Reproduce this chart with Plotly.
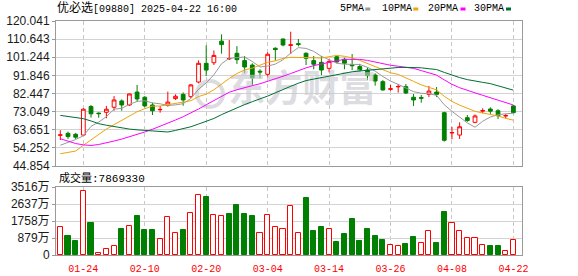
import plotly.graph_objects as go

# ---------------- data ----------------
dates = ['2025-01-21', '2025-01-22', '2025-01-23', '2025-01-24', '2025-01-27', '2025-01-28',
         '2025-02-03', '2025-02-04', '2025-02-05', '2025-02-06', '2025-02-07', '2025-02-10',
         '2025-02-11', '2025-02-12', '2025-02-13', '2025-02-14', '2025-02-17', '2025-02-18',
         '2025-02-19', '2025-02-20', '2025-02-21', '2025-02-24', '2025-02-25', '2025-02-26',
         '2025-02-27', '2025-02-28', '2025-03-03', '2025-03-04', '2025-03-05', '2025-03-06',
         '2025-03-07', '2025-03-10', '2025-03-11', '2025-03-12', '2025-03-13', '2025-03-14',
         '2025-03-17', '2025-03-18', '2025-03-19', '2025-03-20', '2025-03-21', '2025-03-24',
         '2025-03-25', '2025-03-26', '2025-03-27', '2025-03-28', '2025-03-31', '2025-04-01',
         '2025-04-02', '2025-04-03', '2025-04-07', '2025-04-08', '2025-04-09', '2025-04-10',
         '2025-04-11', '2025-04-14', '2025-04-15', '2025-04-16', '2025-04-17', '2025-04-22']

opens = [60.8, 61.8, 61.3, 60.9, 75.7, 72.3, 72.7, 75.3, 78.6, 76.5,
         83.2, 80.5, 76.5, 74.0, 76.3, 79.8, 82.0, 80.8, 88.4, 98.1,
         98.4, 109.6, 100.4, 103.3, 99.5, 97.2, 94.0, 92.4, 105.9, 110.7,
         107.4, 108.3, 103.3, 99.5, 98.6, 95.5, 101.5, 100.2, 97.3, 96.4,
         94.6, 92.0, 88.6, 84.6, 85.9, 86.0, 80.5, 80.4, 82.0, 83.2,
         72.5, 62.0, 60.9, 69.9, 67.5, 73.3, 74.4, 73.5, 70.8, 76.0]
highs = [63.4, 62.7, 62.0, 74.8, 76.5, 72.6, 76.0, 81.1, 79.4, 82.4,
         86.9, 81.1, 77.7, 76.0, 83.4, 82.0, 83.0, 87.4, 99.6, 107.4,
         104.8, 113.1, 110.2, 107.0, 101.9, 98.1, 95.0, 103.8, 106.4, 110.9,
         114.5, 110.7, 103.8, 101.9, 101.9, 100.3, 101.9, 101.0, 102.9, 97.8,
         95.9, 92.9, 89.4, 86.9, 87.4, 87.4, 82.2, 81.7, 86.4, 85.8,
         73.0, 65.1, 67.5, 71.3, 71.6, 74.8, 75.3, 74.3, 71.8, 76.5]
lows = [58.3, 58.9, 58.9, 60.5, 70.0, 69.9, 69.6, 73.5, 73.5, 76.0,
        78.2, 75.3, 71.3, 72.5, 75.6, 79.1, 76.1, 80.0, 87.7, 91.5,
        97.2, 103.1, 99.8, 97.8, 92.9, 86.9, 90.3, 90.8, 99.5, 106.9,
        102.9, 106.9, 97.2, 95.0, 92.0, 93.4, 98.1, 95.0, 94.6, 93.8,
        89.4, 86.5, 83.9, 83.8, 82.9, 82.2, 76.0, 77.7, 80.6, 80.6,
        57.5, 58.7, 58.9, 67.8, 67.0, 72.2, 71.9, 69.2, 69.6, 72.2]
closes = [61.0, 60.1, 59.8, 74.3, 71.9, 72.0, 74.3, 79.1, 76.5, 82.2,
          79.6, 76.0, 73.5, 74.2, 78.0, 81.0, 79.1, 86.9, 98.1, 94.6,
          102.2, 107.8, 100.6, 100.0, 96.2, 90.6, 93.6, 102.8, 105.2, 107.6,
          107.7, 107.9, 100.7, 97.6, 94.6, 99.1, 98.8, 98.1, 96.9, 94.6,
          91.7, 88.9, 84.3, 84.9, 86.1, 82.7, 79.1, 80.0, 83.7, 82.0,
          58.2, 62.2, 65.2, 68.4, 70.8, 73.6, 73.3, 70.9, 71.0, 72.5]
# volume in units of 万 (10,000 shares)
volumes = [1442, 975, 700, 3293, 1634, 78, 321, 477, 1322, 1514,
           1997, 1271, 1271, 840, 1960, 1151, 1271, 2188, 3122, 2982,
           2048, 1997, 2100, 2567, 2100, 1997, 1151, 2083, 1426, 1357,
           2515, 1151, 2930, 1219, 1426, 1357, 648, 1063, 1841, 700,
           1322, 959, 752, 529, 477, 545, 908, 631, 1253, 596,
           2204, 1668, 1253, 890, 890, 529, 441, 441, 218, 787]
last_volume = 7869330

ma5 = [55.6, 57.0, 58.6, 60.5, 65.42, 67.62, 70.46, 74.32, 74.76, 76.82,
       78.34, 78.68, 77.56, 77.10, 76.26, 76.54, 77.16, 79.84, 84.62, 87.94,
       92.18, 97.92, 100.66, 101.04, 101.36, 99.04, 96.20, 96.64, 97.68, 99.96,
       103.38, 106.24, 105.82, 104.30, 101.70, 99.98, 98.16, 97.64, 97.50, 97.50,
       96.02, 94.04, 91.28, 88.88, 87.18, 85.38, 83.42, 82.56, 82.32, 81.50,
       76.60, 73.22, 70.26, 67.20, 64.96, 68.04, 70.26, 71.40, 71.92, 72.26]
ma10 = [51.2, 51.8, 52.6, 55.6, 58.5, 61.2, 64.0, 66.3, 68.6, 71.12,
        72.98, 74.57, 75.94, 75.93, 76.54, 77.44, 77.92, 78.70, 80.86, 82.10,
        84.36, 87.54, 90.25, 92.83, 94.65, 95.61, 97.06, 98.65, 99.36, 100.66,
        101.21, 101.22, 101.23, 100.99, 100.83, 101.68, 102.20, 101.73, 100.90, 99.60,
        98.00, 96.10, 94.46, 93.19, 92.34, 90.70, 88.73, 86.92, 85.60, 84.34,
        80.99, 78.32, 76.41, 74.76, 73.23, 72.32, 71.74, 70.83, 69.56, 68.61]
ma20 = [59.0, 57.6, 56.5, 55.8, 55.5, 56.0, 56.8, 57.8, 58.8, 59.9,
        61.2, 62.5, 63.9, 65.4, 67.0, 68.7, 70.4, 72.2, 74.4, 76.61,
        78.67, 81.06, 83.10, 84.38, 85.60, 86.53, 87.49, 88.68, 90.11, 91.38,
        92.79, 94.38, 95.74, 96.91, 97.74, 98.65, 99.63, 100.19, 100.13, 100.13,
        99.61, 98.66, 97.85, 97.09, 96.59, 96.19, 95.47, 94.33, 93.25, 91.97,
        89.50, 87.21, 85.44, 83.98, 82.79, 81.51, 80.24, 78.88, 77.58, 76.48]
ma30 = [71.1, 70.6, 70.0, 69.4, 68.2, 66.8, 66.0, 65.2, 64.5, 64.0,
        63.6, 63.4, 63.0, 62.7, 62.5, 63.3, 64.1, 65.2, 66.6, 67.9,
        69.5, 71.5, 73.3, 75.1, 76.7, 78.2, 79.5, 81.1, 82.8, 84.63,
        86.18, 87.78, 89.14, 89.92, 90.67, 91.58, 92.39, 93.03, 93.71, 94.12,
        94.52, 94.95, 95.31, 95.67, 95.94, 96.00, 96.00, 95.77, 95.29, 94.87,
        93.40, 91.88, 90.70, 89.65, 88.80, 88.23, 87.56, 86.49, 85.35, 84.18]

price_ticks = [44.854, 54.252, 63.651, 73.049, 82.447, 91.846, 101.244, 110.643, 120.041]
price_tick_text = ['44.854', '54.252', '63.651', '73.049', '82.447', '91.846', '101.244', '110.643', '120.041']
vol_ticks = [0, 879, 1758, 2637, 3516]
vol_tick_text = ['0', '879万', '1758万', '2637万', '3516万']
date_tick_idx = [3, 11, 19, 27, 35, 43, 51, 59]

title_name = '优必选'
title_rest = '[09880] 2025-04-22 16:00'
ma_names = ['5PMA', '10PMA', '20PMA', '30PMA']

# ---------------- styles ----------------
W, H = 578, 276
ML, MR, MT, MB = 56, 56, 21, 21
PW, PH = W - ML - MR, H - MT - MB
RED = '#FF0000'
GREEN = '#008000'
ma_colors = ['#9A9A9A', '#F0A30A', '#FF00FF', '#006E33']
BORDER = '#9A9A9A'
GRID = '#D3D3D3'
WM = 'rgba(200,200,208,0.65)'
MONO = 'Liberation Mono, Noto Sans CJK SC, monospace'
SANS = 'Liberation Sans, Arial, Noto Sans CJK SC, sans-serif'


def px_x(px):
    return (px - ML) / PW


def px_y(py):
    return 1 - (py - MT) / PH


x = list(range(len(dates)))
tick_text = [dates[i][5:] for i in date_tick_idx]

# volume colour follows close vs previous close
vol_up = [True] + [closes[i] >= closes[i - 1] for i in range(1, len(closes))]
vol_fill = ['#FFFFFF' if u else GREEN for u in vol_up]
vol_line = [RED if u else GREEN for u in vol_up]

fig = go.Figure()

# watermark (behind everything)
fig.add_trace(go.Scatter(
    x=[31.5], y=[83.0], mode='text', text=['东方财富'],
    textfont=dict(size=37, color=WM, family='Noto Sans CJK SC', weight='bold'),
    hoverinfo='skip', showlegend=False, xaxis='x', yaxis='y'))

fig.add_trace(go.Candlestick(
    x=x, open=opens, high=highs, low=lows, close=closes,
    increasing=dict(line=dict(color=RED, width=1), fillcolor='#FFFFFF'),
    decreasing=dict(line=dict(color=GREEN, width=1), fillcolor=GREEN),
    whiskerwidth=0, showlegend=False, xaxis='x', yaxis='y'))

for name, vals, col in zip(ma_names, [ma5, ma10, ma20, ma30], ma_colors):
    fig.add_trace(go.Scatter(x=x, y=vals, mode='lines', name=name,
                             line=dict(color=col, width=1), showlegend=False,
                             xaxis='x', yaxis='y'))

fig.add_trace(go.Bar(
    x=x, y=volumes, width=0.66,
    marker=dict(color=vol_fill, line=dict(color=vol_line, width=1)),
    showlegend=False, xaxis='x2', yaxis='y2'))

main_bottom = px_y(166)
vol_top = px_y(187)

xaxis_common = dict(
    range=[-0.56, 60.12], tickmode='array', tickvals=date_tick_idx, ticktext=tick_text,
    showgrid=True, gridcolor='#C8C8C8', griddash='4px,3px', gridwidth=1,
    showline=True, mirror=True, linecolor=BORDER, linewidth=1,
    zeroline=False, fixedrange=True, automargin=False)

yaxis_common = dict(
    tickmode='array', showgrid=True, gridcolor=GRID, gridwidth=1, zeroline=False,
    showline=True, mirror=True, linecolor=BORDER, linewidth=1,
    ticks='outside', ticklen=3, tickcolor=BORDER,
    tickfont=dict(family=SANS, size=12, color='#1A1A1A'), fixedrange=True,
    automargin=False)

fig.update_layout(
    width=W, height=H,
    margin=dict(l=ML, r=MR, t=MT, b=MB, pad=0, autoexpand=False),
    paper_bgcolor='white', plot_bgcolor='white',
    bargap=0, showlegend=False,
    xaxis=dict(**xaxis_common, domain=[0, 1], anchor='y', showticklabels=False,
               ticks='', rangeslider=dict(visible=False)),
    xaxis2=dict(**xaxis_common, domain=[0, 1], anchor='y2', matches='x',
                showticklabels=True, ticks='outside', ticklen=4,
                tickcolor='rgba(0,0,0,0)',
                tickfont=dict(family=MONO, size=10, color=RED)),
    yaxis=dict(**yaxis_common, domain=[main_bottom, 1], range=[44.854, 120.041],
               tickvals=price_ticks, ticktext=price_tick_text),
    yaxis2=dict(**yaxis_common, domain=[0, vol_top], range=[0, 3516],
                tickvals=vol_ticks, ticktext=vol_tick_text),
)

annotations = []
# title
annotations.append(dict(
    xref='paper', yref='paper', x=px_x(55), y=px_y(9), xanchor='left', yanchor='middle',
    text='<span style="font-size:12px">' + title_name + '</span>' + title_rest,
    showarrow=False, font=dict(family=MONO, size=10, color='#000000')))
# MA legend
legend_text_x = [338, 380, 425.5, 471.5]
legend_swatch_x = [365.3, 413.3, 460.5, 506.0]
for name, tx, sx, col in zip(ma_names, legend_text_x, legend_swatch_x, ma_colors):
    annotations.append(dict(
        xref='paper', yref='paper', x=px_x(tx), y=px_y(9), xanchor='left', yanchor='middle',
        text=name, showarrow=False, font=dict(family=MONO, size=10, color='#000000')))
# volume label
annotations.append(dict(
    xref='paper', yref='paper', x=px_x(57), y=px_y(178), xanchor='left', yanchor='middle',
    text='成交量:' + str(last_volume), showarrow=False,
    font=dict(family=MONO, size=11, color='#000000')))
fig.update_layout(annotations=annotations)

shapes = []
for sx, col in zip(legend_swatch_x, ma_colors):
    shapes.append(dict(type='rect', xref='paper', yref='paper',
                       x0=px_x(sx), x1=px_x(sx + 5), y0=px_y(10.5), y1=px_y(7.5),
                       fillcolor=col, line=dict(width=0)))
# watermark logo ring (left of the watermark text)
shapes.append(dict(type='circle', xref='paper', yref='paper', layer='below',
                   x0=px_x(197), x1=px_x(223), y0=px_y(107), y1=px_y(81),
                   fillcolor='rgba(0,0,0,0)', line=dict(color=WM, width=4)))
fig.update_layout(shapes=shapes)

fig.write_html('out.html')
